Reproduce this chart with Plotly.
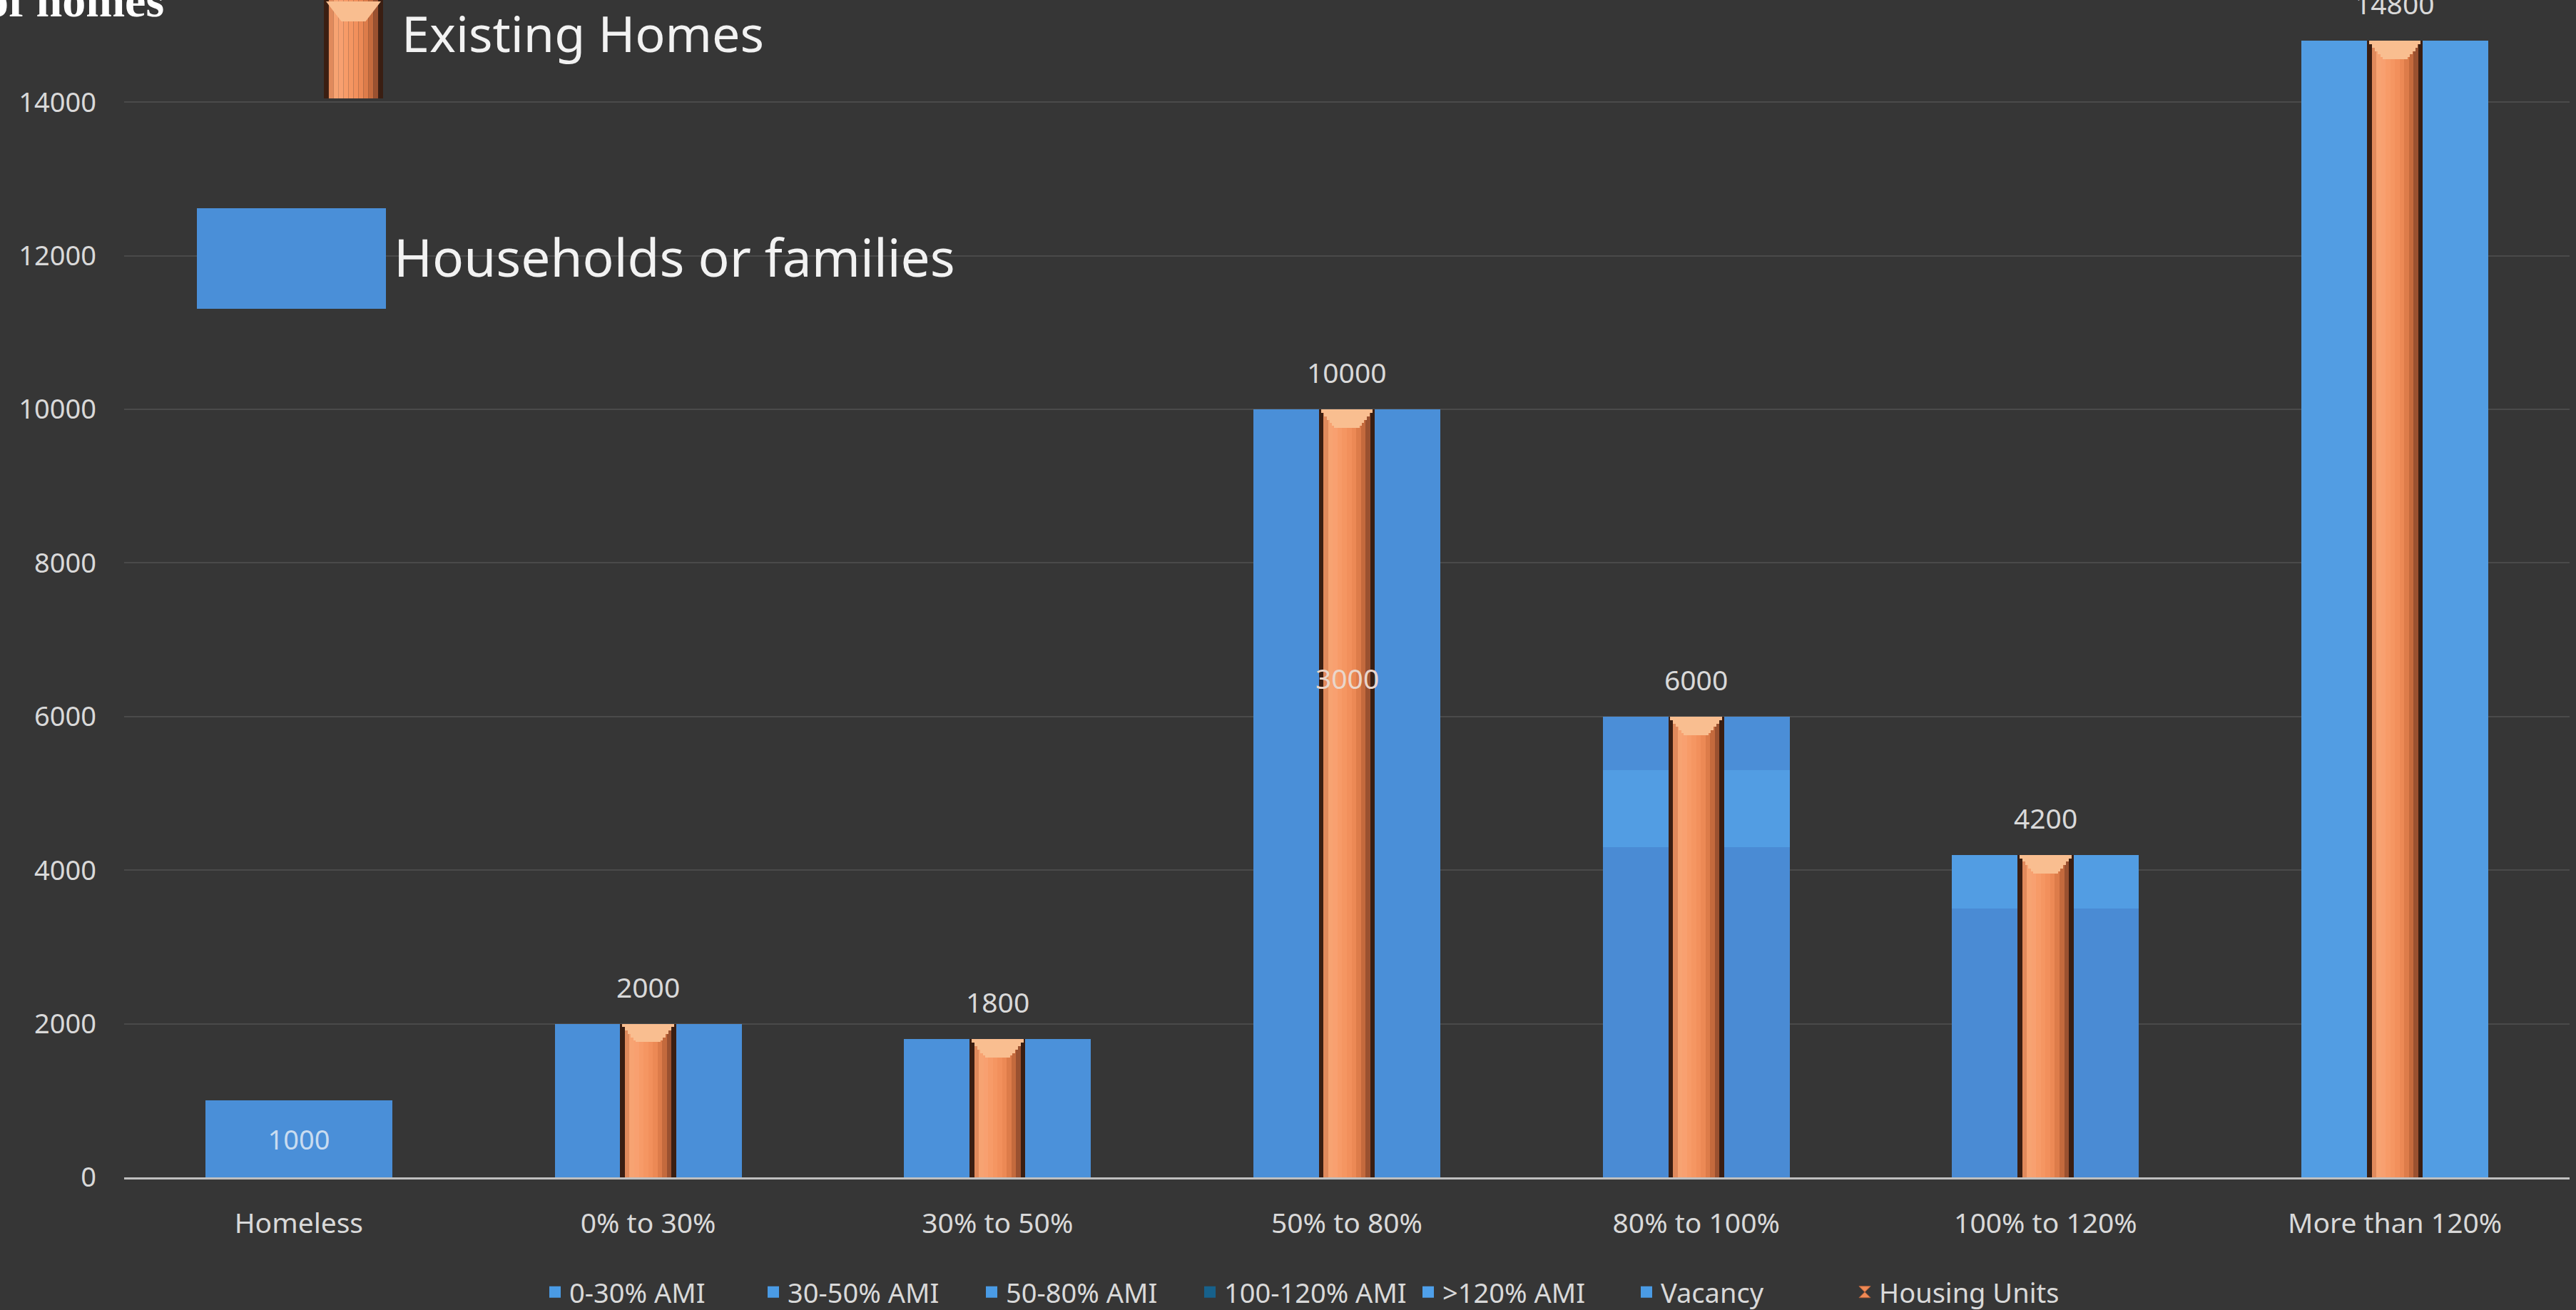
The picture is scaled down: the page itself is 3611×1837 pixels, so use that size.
import numpy as np
import plotly.graph_objects as go

# ---------------- data ----------------
categories = ["Homeless", "0% to 30%", "30% to 50%", "50% to 80%",
              "80% to 100%", "100% to 120%", "More than 120%"]
ami_0_30 = [1000, 2000, 0, 0, 0, 0, 0]
ami_30_50 = [0, 0, 1800, 0, 0, 0, 0]
ami_50_80 = [0, 0, 0, 10000, 0, 0, 0]
ami_100_120 = [0, 0, 0, 0, 4300, 3500, 0]
ami_120_plus = [0, 0, 0, 0, 1000, 700, 14800]
vacancy = [0, 0, 0, 0, 700, 0, 0]
housing_units = [0, 2000, 1800, 10000, 6000, 4200, 14800]
extra_label_cat = "50% to 80%"
extra_label_text = "3000"
extra_label_value = 6500
y_ticks = [0, 2000, 4000, 6000, 8000, 10000, 12000, 14000]

# ---------------- geometry ----------------
W, H = 3611, 1837
ML, MR, MT, MB = 174, 9, 0, 186
PW, PH = W - ML - MR, H - MT - MB
Y_TOP = 15330


def px(x):
    return (x - ML) / PW


def py(y):
    return (MT + PH - y) / PH


BLUE_W = 0.535
OR_W = 0.16
TXT = "#D9D9D9"
BG = "#363636"

fig = go.Figure()

# blue stacked series (stack computed manually, bars overlaid)
blue_series = [
    ("0-30% AMI", ami_0_30, "#4A8FD8", "#4A9BE5"),
    ("30-50% AMI", ami_30_50, "#4B91DA", "#4A9BE5"),
    ("50-80% AMI", ami_50_80, "#4A8FD8", "#4A9BE5"),
    ("100-120% AMI", ami_100_120, "#4A8BD4", "#17618B"),
    (">120% AMI", ami_120_plus, "#529DE3", "#4FA0EA"),
    ("Vacancy", vacancy, "#4B8ED7", "#4A9BE5"),
]
base = np.zeros(len(categories))
for i, (name, vals, col, lcol) in enumerate(blue_series):
    v = np.array(vals, dtype=float)
    text = None
    if name == "0-30% AMI":
        text = [str(int(vals[0])) if vals[0] else ""] + [""] * (len(vals) - 1)
    fig.add_trace(go.Bar(
        x=categories, y=[val if val > 0 else None for val in v], base=base.copy(),
        name=name, marker=dict(color=col, line=dict(width=0)), width=BLUE_W,
        text=text, textposition="inside", insidetextanchor="middle",
        textfont=dict(color="#C9DCF0", size=38, family="Noto Sans"),
        showlegend=False, hoverinfo="skip"))
    # legend entry (square swatch)
    fig.add_trace(go.Scatter(
        x=[None], y=[None], mode="markers", name=name,
        marker=dict(symbol="square", size=16, color=lcol), legendrank=i + 1))
    base = base + v

# orange "cylinder" for housing units: vertical strips of a gradient
hu = np.array(housing_units, dtype=float)
hu_y = [val if val > 0 else None for val in hu]
strip_cols = ["#3A1E12", "#E08A5C", "#F7A372", "#F8A070", "#F79B68", "#F59662",
              "#F2905C", "#EC8955", "#DD7C4A", "#C46A3D", "#9A5130", "#3A1E12"]
sw = OR_W / len(strip_cols)
for k, col in enumerate(strip_cols):
    fig.add_trace(go.Bar(
        x=categories, y=hu_y, base=0, width=sw, offset=-OR_W / 2 + k * sw,
        marker=dict(color=col, line=dict(width=0)),
        showlegend=False, hoverinfo="skip"))
fig.add_trace(go.Scatter(
    x=[None], y=[None], mode="markers", name="Housing Units",
    marker=dict(symbol="hourglass", size=16, color="#F08A55",
                line=dict(color="#B5603A", width=1)), legendrank=10))

# light trapezoid cap at the top of each cylinder (stepped)
cap_steps = [(0.148, 45), (0.132, 90), (0.116, 135), (0.100, 180), (0.084, 215), (0.072, 240)]
for wdt, depth in cap_steps:
    fig.add_trace(go.Bar(
        x=categories, y=[depth if val > 0 else None for val in hu],
        base=[val - depth if val > 0 else None for val in hu],
        width=wdt, marker=dict(color="#F9BE90", line=dict(width=0)),
        showlegend=False, hoverinfo="skip"))

# value labels above bars
annotations = []
for c, val in zip(categories, housing_units):
    if val > 0:
        annotations.append(dict(
            x=c, y=val, xref="x", yref="y", text=str(val), showarrow=False,
            yanchor="bottom", yshift=24,
            font=dict(size=39, color=TXT, family="Noto Sans")))
annotations.append(dict(
    x=extra_label_cat, y=extra_label_value, xref="x", yref="y",
    text=extra_label_text, showarrow=False,
    font=dict(size=39, color="#EAD6CA", family="Noto Sans")))

# partially visible title and pictogram legend
annotations.append(dict(
    x=px(232), y=py(0), xref="paper", yref="paper", text="<b>Number of homes</b>",
    showarrow=False, xanchor="right", yanchor="middle",
    font=dict(size=66, color="#FFFFFF", family="Liberation Serif")))
annotations.append(dict(
    x=px(562), y=py(46), xref="paper", yref="paper", text="Existing Homes",
    showarrow=False, xanchor="left", yanchor="middle", borderpad=0,
    font=dict(size=70, color="#F2F2F2", family="Noto Sans")))
annotations.append(dict(
    x=px(550), y=py(359), xref="paper", yref="paper", text="Households or families",
    showarrow=False, xanchor="left", yanchor="middle",
    font=dict(size=73, color="#F2F2F2", family="Noto Sans")))

shapes = []
# blue pictogram
shapes.append(dict(type="rect", xref="paper", yref="paper",
                   x0=px(276), x1=px(541), y0=py(433), y1=py(292),
                   fillcolor="#4A8FD8", line=dict(width=0), layer="above"))
# orange pictogram (gradient strips)
ix0, ix1, iy0, iy1 = 454, 537, -10, 138
isw = (ix1 - ix0) / len(strip_cols)
for k, col in enumerate(strip_cols):
    shapes.append(dict(type="rect", xref="paper", yref="paper",
                       x0=px(ix0 + k * isw), x1=px(ix0 + (k + 1) * isw),
                       y0=py(iy1), y1=py(iy0),
                       fillcolor=col, line=dict(width=0), layer="above"))
cx = (ix0 + ix1) / 2
shapes.append(dict(type="path", xref="paper", yref="paper",
                   path=f"M {px(ix0+3)} {py(2)} L {px(ix1-3)} {py(2)} "
                        f"L {px(cx+17)} {py(30)} L {px(cx-17)} {py(30)} Z",
                   fillcolor="#F9BE90", line=dict(width=0), layer="above"))

fig.update_layout(
    width=W, height=H, barmode="overlay",
    paper_bgcolor=BG, plot_bgcolor=BG,
    margin=dict(l=ML, r=MR, t=MT, b=MB, pad=0, autoexpand=False),
    font=dict(family="Noto Sans", color=TXT, size=38),
    showlegend=True,
    legend=dict(orientation="h", x=px(758), xanchor="left",
                y=py(1812), yanchor="middle", bgcolor="rgba(0,0,0,0)",
                font=dict(size=38, color=TXT), traceorder="normal",
                itemwidth=30, entrywidth=261, entrywidthmode="pixels",
                itemclick=False),
    annotations=annotations, shapes=shapes,
    bargap=0,
)
fig.update_xaxes(range=[-0.5, len(categories) - 0.5], showgrid=False,
                 showline=True, linecolor="#BFBFBF", linewidth=3,
                 ticks="", tickfont=dict(size=39, color=TXT),
                 ticklabelstandoff=28, zeroline=False, automargin=False)
fig.update_yaxes(range=[0, Y_TOP], tickvals=y_ticks, tickformat="d", showgrid=True,
                 gridcolor="#4A4A4A", gridwidth=2, zeroline=False,
                 showline=False, ticks="", tickfont=dict(size=38, color=TXT),
                 ticklabelstandoff=38, automargin=False)

fig.write_html("out.html", config={"displayModeBar": False},
               post_script="document.body.style.margin='0';"
                           "document.body.style.background='#363636';")
